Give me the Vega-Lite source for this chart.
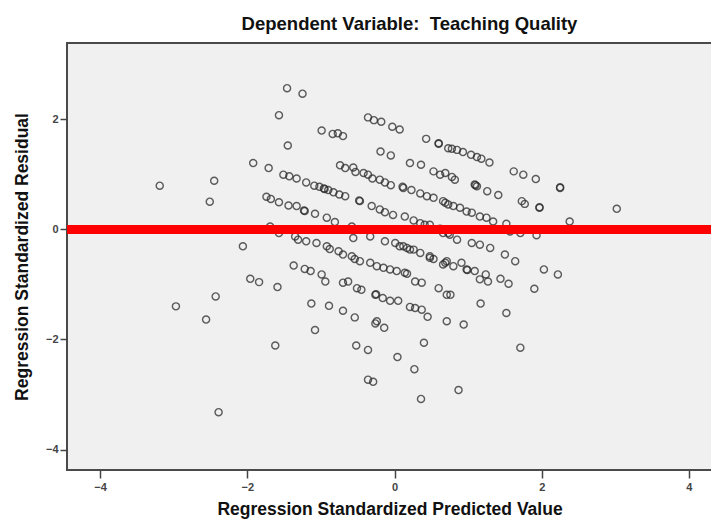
{
  "$schema": "https://vega.github.io/schema/vega-lite/v6.json",
  "width": 645,
  "height": 427,
  "autosize": {"type": "none"},
  "padding": {"left": 67, "top": 43, "right": 0, "bottom": 49},
  "background": "white",
  "title": {
    "text": "Dependent Variable:\u00a0 Teaching Quality",
    "font": "Liberation Sans",
    "fontSize": 18.5,
    "fontWeight": "bold",
    "color": "#111",
    "dx": 20,
    "offset": 10
  },
  "config": {
    "view": {"fill": "#f0f0f0", "stroke": "#4a4a4a", "strokeWidth": 2},
    "axis": {
      "grid": false,
      "domain": false,
      "format": "d",
      "labelFont": "Liberation Sans",
      "labelFontSize": 11,
      "labelFontWeight": "bold",
      "labelColor": "#444",
      "tickColor": "#444",
      "tickWidth": 1.5,
      "titleFont": "Liberation Sans",
      "titleFontSize": 17.5,
      "titleFontWeight": "bold",
      "titleColor": "#111"
    }
  },
  "data": {
    "values": [
      {"x": -1.46, "y": 2.56}, {"x": -1.25, "y": 2.46}, {"x": -1.57, "y": 2.07}, {"x": -1.45, "y": 1.52},
      {"x": -2.45, "y": 0.88}, {"x": -2.51, "y": 0.50}, {"x": -1.92, "y": 1.20}, {"x": -1.71, "y": 1.11},
      {"x": -0.99, "y": 1.79}, {"x": -0.84, "y": 1.73}, {"x": -0.77, "y": 1.74}, {"x": -0.70, "y": 1.69},
      {"x": -0.36, "y": 2.03}, {"x": -0.28, "y": 1.98}, {"x": -0.18, "y": 1.95}, {"x": -0.03, "y": 1.86},
      {"x": 0.07, "y": 1.81}, {"x": -0.19, "y": 1.41}, {"x": -0.05, "y": 1.34}, {"x": 0.43, "y": 1.64},
      {"x": 0.60, "y": 1.55}, {"x": 0.60, "y": 1.56}, {"x": 0.73, "y": 1.47}, {"x": 0.21, "y": 1.20},
      {"x": 0.36, "y": 1.17},
      {"x": -1.51, "y": 0.99}, {"x": -1.43, "y": 0.96}, {"x": -1.33, "y": 0.92}, {"x": -1.20, "y": 0.85},
      {"x": -1.09, "y": 0.79}, {"x": -1.02, "y": 0.77}, {"x": -0.96, "y": 0.74}, {"x": -0.95, "y": 0.73},
      {"x": -0.90, "y": 0.71}, {"x": -0.83, "y": 0.67}, {"x": -0.75, "y": 0.63}, {"x": -0.67, "y": 0.60},
      {"x": -0.74, "y": 1.16}, {"x": -0.67, "y": 1.11}, {"x": -0.56, "y": 1.12}, {"x": -0.53, "y": 1.04},
      {"x": -0.42, "y": 1.02}, {"x": -0.36, "y": 0.99}, {"x": -0.30, "y": 0.92}, {"x": -0.20, "y": 0.90},
      {"x": -0.13, "y": 0.85}, {"x": -0.05, "y": 0.80}, {"x": 0.11, "y": 0.77}, {"x": 0.12, "y": 0.75},
      {"x": 0.23, "y": 0.71}, {"x": 0.35, "y": 0.65}, {"x": 0.44, "y": 0.60}, {"x": 0.53, "y": 0.57},
      {"x": 0.66, "y": 0.51}, {"x": 0.73, "y": 0.45},
      {"x": -1.74, "y": 0.59}, {"x": -1.68, "y": 0.55}, {"x": -1.57, "y": 0.49}, {"x": -1.44, "y": 0.43},
      {"x": -1.33, "y": 0.42}, {"x": -1.23, "y": 0.34}, {"x": -1.22, "y": 0.33}, {"x": -1.08, "y": 0.28},
      {"x": -0.92, "y": 0.21}, {"x": -0.81, "y": 0.13}, {"x": -0.48, "y": 0.52}, {"x": -0.47, "y": 0.51},
      {"x": -0.31, "y": 0.42}, {"x": -0.20, "y": 0.36}, {"x": -0.13, "y": 0.31}, {"x": -0.02, "y": 0.26},
      {"x": 0.14, "y": 0.23}, {"x": 0.26, "y": 0.16}, {"x": 0.35, "y": 0.11}, {"x": 0.41, "y": 0.08},
      {"x": 0.48, "y": 0.08}, {"x": 0.53, "y": -0.01}, {"x": 0.62, "y": 0.01}, {"x": 0.66, "y": -0.07},
      {"x": 0.73, "y": -0.07}, {"x": 0.75, "y": -0.10}, {"x": 0.85, "y": -0.19},
      {"x": -1.69, "y": 0.05}, {"x": -1.57, "y": -0.07}, {"x": -1.35, "y": -0.13}, {"x": -1.31, "y": -0.19},
      {"x": -1.20, "y": -0.22}, {"x": -1.06, "y": -0.25}, {"x": -0.92, "y": -0.31}, {"x": -0.88, "y": -0.36},
      {"x": -0.76, "y": -0.40}, {"x": -0.70, "y": -0.46}, {"x": -0.58, "y": -0.49}, {"x": -0.54, "y": -0.54},
      {"x": -0.47, "y": -0.58}, {"x": -0.58, "y": 0.05}, {"x": -0.56, "y": -0.16}, {"x": -0.33, "y": -0.13},
      {"x": -0.13, "y": -0.22}, {"x": 0.01, "y": -0.25}, {"x": 0.07, "y": -0.31}, {"x": 0.12, "y": -0.31},
      {"x": 0.17, "y": -0.34}, {"x": 0.21, "y": -0.37}, {"x": 0.26, "y": -0.37}, {"x": 0.35, "y": -0.43},
      {"x": 0.48, "y": -0.49}, {"x": 0.48, "y": -0.52}, {"x": 0.53, "y": -0.54}, {"x": 0.69, "y": -0.61},
      {"x": 0.71, "y": -0.58}, {"x": -2.06, "y": -0.31},
      {"x": -1.37, "y": -0.66}, {"x": -1.22, "y": -0.72}, {"x": -1.14, "y": -0.76}, {"x": -0.99, "y": -0.82},
      {"x": -0.94, "y": -0.95}, {"x": -0.33, "y": -0.61}, {"x": -0.24, "y": -0.67}, {"x": -0.15, "y": -0.70},
      {"x": -0.06, "y": -0.73}, {"x": 0.03, "y": -0.76}, {"x": 0.14, "y": -0.79}, {"x": 0.17, "y": -0.81},
      {"x": 0.28, "y": -0.95}, {"x": 0.37, "y": -0.97}, {"x": 0.60, "y": -1.07}, {"x": 0.71, "y": -1.19},
      {"x": 0.76, "y": -1.19}, {"x": -1.96, "y": -0.90}, {"x": -1.84, "y": -0.96}, {"x": -1.59, "y": -1.05},
      {"x": -2.43, "y": -1.22}, {"x": -2.56, "y": -1.64}, {"x": -0.70, "y": -0.97}, {"x": -0.63, "y": -0.95},
      {"x": -0.51, "y": -1.07}, {"x": -0.45, "y": -1.10}, {"x": -0.26, "y": -1.19}, {"x": -0.25, "y": -1.18},
      {"x": -0.16, "y": -1.25}, {"x": -0.06, "y": -1.30}, {"x": 0.05, "y": -1.30}, {"x": 0.21, "y": -1.41},
      {"x": 0.28, "y": -1.43}, {"x": 0.37, "y": -1.46}, {"x": 0.45, "y": -1.59}, {"x": -1.13, "y": -1.35},
      {"x": -0.89, "y": -1.39}, {"x": -0.70, "y": -1.48}, {"x": -0.54, "y": -1.60}, {"x": -0.26, "y": -1.71},
      {"x": -0.24, "y": -1.67}, {"x": -0.14, "y": -1.79}, {"x": -1.08, "y": -1.83}, {"x": -1.62, "y": -2.11},
      {"x": -0.52, "y": -2.11}, {"x": -0.36, "y": -2.19}, {"x": 0.40, "y": -2.06}, {"x": 0.04, "y": -2.32},
      {"x": 0.27, "y": -2.54}, {"x": -0.36, "y": -2.73}, {"x": -0.29, "y": -2.77}, {"x": 0.36, "y": -3.08},
      {"x": -2.39, "y": -3.32}, {"x": 0.71, "y": -1.67},
      {"x": 0.78, "y": 1.46}, {"x": 0.85, "y": 1.44}, {"x": 0.93, "y": 1.40}, {"x": 1.04, "y": 1.35},
      {"x": 1.12, "y": 1.31}, {"x": 1.18, "y": 1.28}, {"x": 1.29, "y": 1.21}, {"x": 0.53, "y": 1.05},
      {"x": 0.62, "y": 0.99}, {"x": 0.69, "y": 1.02}, {"x": 0.78, "y": 0.95}, {"x": 0.82, "y": 0.90},
      {"x": 1.09, "y": 0.81}, {"x": 1.10, "y": 0.80}, {"x": 1.12, "y": 0.78}, {"x": 1.26, "y": 0.69},
      {"x": 1.41, "y": 0.62}, {"x": 1.62, "y": 1.05}, {"x": 1.75, "y": 0.99}, {"x": 1.92, "y": 0.91},
      {"x": 2.25, "y": 0.75}, {"x": 2.25, "y": 0.76}, {"x": 3.02, "y": 0.37}, {"x": 1.73, "y": 0.51},
      {"x": 1.77, "y": 0.46}, {"x": 1.97, "y": 0.40}, {"x": 1.97, "y": 0.39}, {"x": 2.38, "y": 0.14},
      {"x": 0.69, "y": 0.48}, {"x": 0.80, "y": 0.42}, {"x": 0.89, "y": 0.39}, {"x": 0.98, "y": 0.32},
      {"x": 1.05, "y": 0.30}, {"x": 1.16, "y": 0.23}, {"x": 1.25, "y": 0.21}, {"x": 1.34, "y": 0.14},
      {"x": 1.52, "y": 0.10}, {"x": 1.57, "y": -0.04}, {"x": 1.71, "y": -0.07}, {"x": 1.93, "y": -0.11},
      {"x": 1.05, "y": -0.25}, {"x": 1.16, "y": -0.28}, {"x": 1.30, "y": -0.34},
      {"x": 0.66, "y": -0.64}, {"x": 0.80, "y": -0.67}, {"x": 0.91, "y": -0.61}, {"x": 0.98, "y": -0.73},
      {"x": 0.99, "y": -0.74}, {"x": 1.09, "y": -0.76}, {"x": 1.24, "y": -0.82}, {"x": 1.16, "y": -0.91},
      {"x": 1.27, "y": -0.95}, {"x": 1.50, "y": -0.46}, {"x": 1.64, "y": -0.58}, {"x": 1.44, "y": -0.90},
      {"x": 1.55, "y": -0.99}, {"x": 2.03, "y": -0.73}, {"x": 2.22, "y": -0.82}, {"x": 1.90, "y": -1.08},
      {"x": 0.94, "y": -1.73}, {"x": 1.17, "y": -1.35}, {"x": 1.52, "y": -1.52}, {"x": 1.71, "y": -2.15},
      {"x": 0.87, "y": -2.92},
      {"x": -3.19, "y": 0.79}, {"x": -2.97, "y": -1.40}
    ]
  },
  "layer": [
    {
      "mark": {"type": "point", "shape": "circle", "filled": false, "size": 50, "strokeWidth": 1.4, "color": "#2a2a2a", "opacity": 0.75},
      "encoding": {
        "x": {
          "field": "x", "type": "quantitative",
          "scale": {"domain": [-4.45, 4.314], "nice": false, "zero": false},
          "axis": {"values": [-4, -2, 0, 2, 4], "title": "Regression Standardized Predicted Value", "tickSize": 8, "labelPadding": 3, "titlePadding": 8}
        },
        "y": {
          "field": "y", "type": "quantitative",
          "scale": {"domain": [-4.37, 3.38], "nice": false, "zero": false},
          "axis": {"values": [-4, -2, 0, 2], "title": "Regression Standardized Residual", "tickSize": 7, "labelPadding": 2, "titlePadding": 14}
        }
      }
    },
    {
      "mark": {"type": "rule", "color": "#ff0000", "strokeWidth": 8},
      "encoding": {"y": {"datum": 0}}
    }
  ]
}
